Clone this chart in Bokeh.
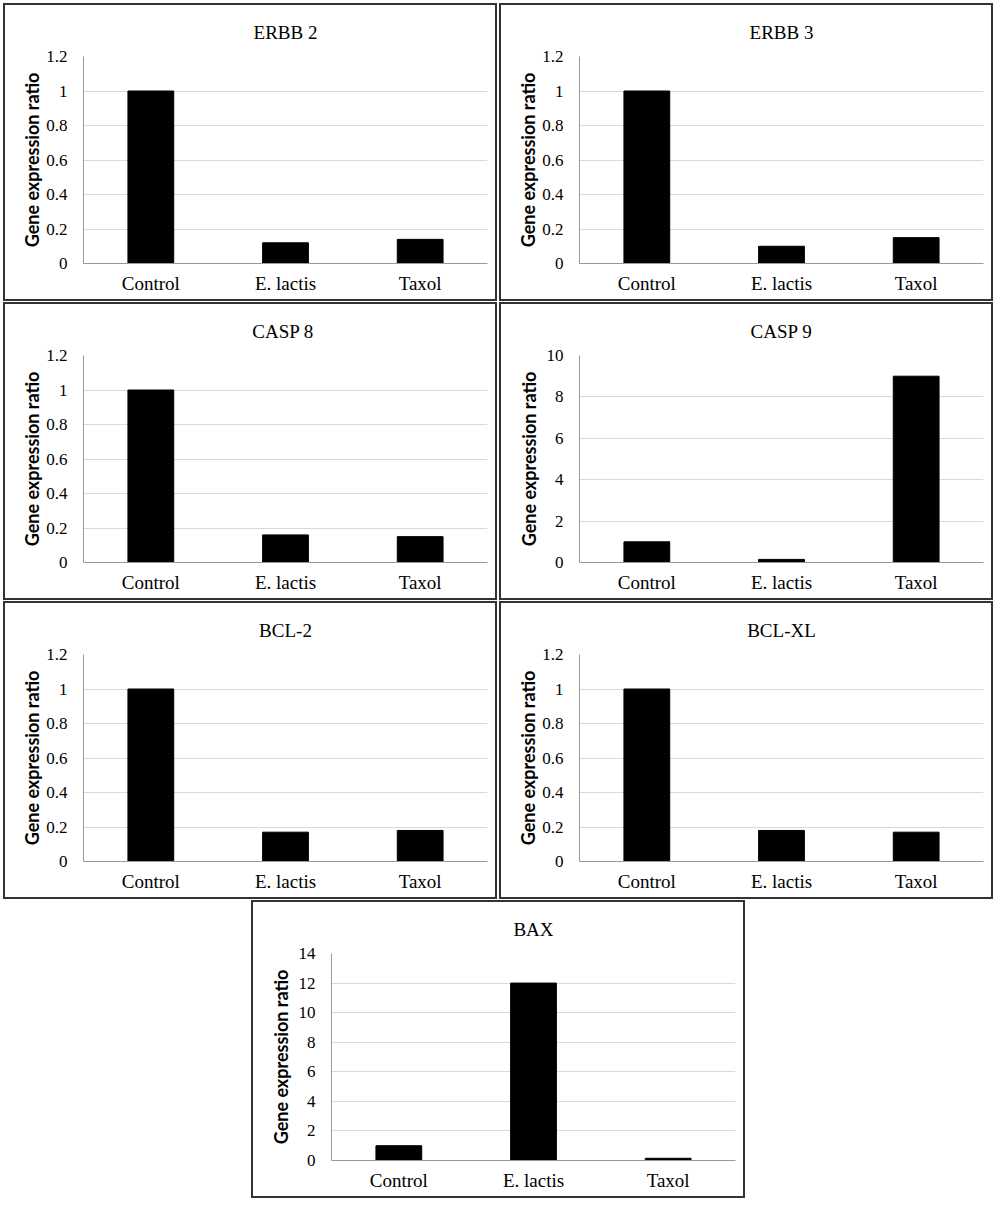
from bokeh.plotting import figure
from bokeh.layouts import column, row
from bokeh.models import FixedTicker, Range1d, Spacer
from bokeh.embed import file_html
from bokeh.resources import INLINE

categories = ["Control", "E. lactis", "Taxol"]

titles = ["ERBB 2", "ERBB 3", "CASP  8", "CASP 9", "BCL-2", "BCL-XL", "BAX"]

erbb2 = [1.0, 0.12, 0.14]
erbb3 = [1.0, 0.10, 0.15]
casp8 = [1.0, 0.16, 0.15]
casp9 = [1.0, 0.15, 9.0]
bcl2 = [1.0, 0.17, 0.18]
bclxl = [1.0, 0.18, 0.17]
bax = [1.0, 12.0, 0.15]

ticks_small = [0, 0.2, 0.4, 0.6, 0.8, 1.0, 1.2]
labels_small = ["0", "0.2", "0.4", "0.6", "0.8", "1", "1.2"]
ticks_casp9 = [0, 2, 4, 6, 8, 10]
labels_casp9 = ["0", "2", "4", "6", "8", "10"]
ticks_bax = [0, 2, 4, 6, 8, 10, 12, 14]
labels_bax = ["0", "2", "4", "6", "8", "10", "12", "14"]

y_label = "Gene expression ratio"

SERIF = "Liberation Serif"
W, H = 494, 298


def panel(title, values, ticks, labels, label_standoff=0):
    p = figure(x_range=categories, y_range=Range1d(0, ticks[-1]),
               width=W, height=H, output_backend="svg", toolbar_location=None,
               min_border_left=78, min_border_right=12, min_border_top=51,
               min_border_bottom=40,
               styles={"border": "2px solid #333", "box-sizing": "border-box"})
    p.vbar(x=categories, top=values, width=0.34, fill_color="black", line_color="black")
    p.title.text = title
    p.title.align = "center"
    p.title.text_font = SERIF
    p.title.text_font_size = "19px"
    p.title.text_font_style = "normal"
    p.title.text_color = "black"
    p.title.offset = -34
    p.title.standoff = 27
    p.outline_line_color = None
    p.xgrid.grid_line_color = None
    p.ygrid.grid_line_color = "#d9d9d9"
    p.ygrid.ticker = FixedTicker(ticks=ticks)
    ya = p.yaxis[0]
    ya.ticker = FixedTicker(ticks=ticks)
    ya.major_label_overrides = {t: l for t, l in zip(ticks, labels)}
    ya.axis_label = y_label
    ya.axis_label_text_font = "Lato"
    ya.axis_label_text_font_style = "bold"
    ya.axis_label_text_font_size = "18px"
    ya.axis_label_text_color = "black"
    ya.axis_label_standoff = label_standoff
    for ax in (p.xaxis[0], ya):
        ax.major_tick_line_color = None
        ax.minor_tick_line_color = None
        ax.axis_line_color = "#999999"
        ax.major_label_text_font = SERIF
        ax.major_label_text_font_size = "17px"
        ax.major_label_text_color = "black"
    ya.major_label_standoff = 10
    p.xaxis[0].major_label_standoff = 3
    p.xaxis[0].major_label_text_font_size = "19px"
    return p


p1 = panel(titles[0], erbb2, ticks_small, labels_small)
p2 = panel(titles[1], erbb3, ticks_small, labels_small)
p3 = panel(titles[2], casp8, ticks_small, labels_small)
p4 = panel(titles[3], casp9, ticks_casp9, labels_casp9, label_standoff=4)
p5 = panel(titles[4], bcl2, ticks_small, labels_small)
p6 = panel(titles[5], bclxl, ticks_small, labels_small)
p7 = panel(titles[6], bax, ticks_bax, labels_bax, label_standoff=4)


def pair_row(a, b):
    return row(Spacer(width=3, height=H), a, Spacer(width=2, height=H), b, spacing=0)


layout = column(
    Spacer(width=10, height=2),
    pair_row(p1, p2),
    pair_row(p3, p4),
    pair_row(p5, p6),
    row(Spacer(width=251, height=H), p7, spacing=0),
    spacing=1,
)

open("out.html", "w").write(file_html(layout, INLINE))
